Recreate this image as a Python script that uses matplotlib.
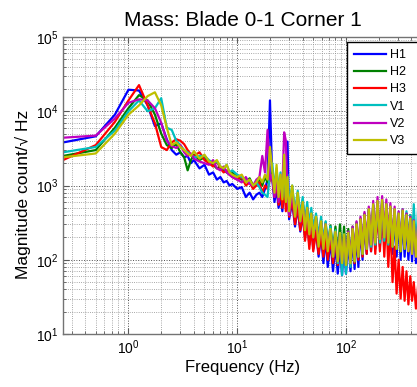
import numpy as np
import matplotlib
matplotlib.use("Agg")
import matplotlib.pyplot as plt
from matplotlib.ticker import LogLocator, NullFormatter

plt.rcParams['font.family'] = ['Liberation Sans', 'DejaVu Sans']
plt.rcParams['mathtext.default'] = 'regular'

# frequency grid (Hz)
freq_lo = [0.25, 0.5, 0.75, 1.0, 1.25, 1.5, 1.75, 2.0, 2.25, 2.5,
           2.75, 3.0, 3.25, 3.5, 3.75, 4.0, 4.5, 5.0, 5.5, 6.0,
           6.5, 7.0, 7.5, 8.0, 8.5, 9.0, 10, 11, 12, 13,
           14, 15, 16, 17, 18, 19, 20]
freq_hi = [21, 22, 23, 24, 25, 26, 27, 28, 29, 30,
           32, 34, 36, 38, 40, 42, 44, 46, 48, 50,
           53, 56, 59, 62, 65, 68,
           72, 76, 80, 84, 88, 92, 96, 100,
           105, 110, 115, 120, 125, 130,
           136, 142, 148, 155, 162, 170, 178, 186, 195,
           205, 215, 225, 235, 245, 256, 268, 280, 292,
           305, 318, 332, 346, 360, 375, 390, 405, 420, 440, 460]
freq = freq_lo + freq_hi

labels = ['H1', 'H2', 'H3', 'V1', 'V2', 'V3']

h1 = [3800, 4600, 9000, 19500, 19000, 12000, 6300, 6900, 4200, 3000,
      2600, 2800, 2400, 2500, 2000, 2200, 1700, 1900, 1400, 1500,
      1200, 1300, 1100, 1150, 1000, 1050, 900, 950, 700, 800,
      650, 750, 800, 700, 900, 1200, 14000,
      1200, 600, 900, 500, 700, 450, 800, 600, 3900, 350,
      600, 280, 500, 240, 400, 200, 330, 160, 300, 140,
      250, 110, 220, 90, 200, 80,
      180, 70, 160, 65, 150, 62, 160, 65,
      170, 70, 200, 75, 230, 80,
      280, 100, 330, 120, 400, 130, 450, 140, 500,
      150, 520, 160, 470, 140, 430, 120, 400, 110,
      350, 100, 380, 110, 330, 100, 300, 95, 270, 90, 240]
h2 = [2500, 3000, 6000, 11000, 16500, 14000, 9000, 5000, 3500, 3200,
      3600, 2800, 2400, 1600, 2200, 2600, 2200, 2400, 2000, 1900,
      1700, 1800, 1600, 1500, 1400, 1500, 1300, 1200, 1100, 1250,
      1000, 1100, 1200, 1000, 1300, 1100, 1600,
      1500, 800, 1600, 700, 1300, 650, 1500, 600, 1100, 500,
      900, 400, 750, 350, 600, 280, 500, 240, 420, 220,
      380, 180, 340, 160, 320, 150,
      290, 130, 280, 120, 300, 110, 280, 105,
      260, 100, 280, 105, 320, 115,
      360, 130, 420, 150, 480, 160, 540, 170, 600,
      180, 600, 190, 540, 170, 500, 150, 470, 140,
      420, 130, 460, 140, 420, 140, 400, 130, 380, 120, 300]
h3 = [2200, 3500, 7200, 14000, 22500, 12000, 6900, 3300, 3000, 3800,
      4200, 4000, 3600, 3000, 2600, 2500, 2800, 2200, 2000, 1800,
      2100, 1700, 1500, 1600, 1400, 1300, 1200, 1300, 1000, 1100,
      900, 1000, 1100, 800, 1000, 900, 1200,
      1300, 700, 1100, 550, 900, 500, 1000, 450, 700, 380,
      650, 300, 520, 250, 420, 180, 330, 140, 280, 130,
      240, 120, 220, 110, 200, 100,
      190, 90, 180, 85, 170, 80, 170, 80,
      190, 85, 220, 90, 260, 100,
      300, 110, 350, 120, 400, 130, 450, 120, 500,
      130, 480, 110, 400, 80, 300, 50, 150, 35,
      100, 30, 80, 28, 70, 25, 60, 28, 50, 22, 45]
v1 = [2800, 3300, 5500, 10000, 14000, 10000, 11000, 15000, 6000, 5600,
      4000, 3500, 3000, 2800, 2600, 2400, 2500, 2500, 2200, 2000,
      2100, 1800, 1700, 1900, 1500, 1600, 1400, 1300, 1200, 1100,
      1000, 1100, 950, 800, 750, 700, 1500,
      2000, 900, 1700, 800, 1500, 700, 1800, 650, 1400, 550,
      1000, 450, 850, 400, 700, 330, 600, 290, 500, 260,
      420, 200, 380, 170, 330, 150,
      280, 110, 250, 90, 230, 62, 220, 65,
      230, 80, 260, 95, 290, 110,
      340, 120, 400, 140, 460, 150, 540, 160, 600,
      170, 620, 180, 560, 160, 520, 150, 480, 150,
      440, 140, 480, 150, 450, 140, 400, 130, 560, 130, 500]
v2 = [4400, 4700, 8000, 13000, 14500, 14000, 11000, 7000, 4000, 3400,
      3200, 3500, 2800, 2500, 2700, 2300, 2100, 2000, 1900, 2200,
      1700, 1600, 1800, 1500, 1400, 1300, 1200, 1100, 1300, 1050,
      1000, 1200, 1300, 2500, 1500, 5600, 1200,
      1400, 700, 1300, 600, 1200, 900, 5200, 4000, 700, 400,
      800, 380, 700, 320, 580, 260, 480, 220, 400, 200,
      360, 160, 320, 150, 300, 140,
      250, 110, 230, 100, 220, 95, 210, 90,
      240, 95, 280, 110, 330, 120,
      380, 140, 440, 160, 520, 180, 620, 190, 700,
      210, 720, 220, 650, 190, 580, 160, 520, 150,
      450, 140, 480, 150, 420, 130, 380, 120, 340, 110, 290]
v3 = [2400, 2700, 5000, 9000, 12000, 16000, 18000, 12000, 6000, 3500,
      3800, 3300, 3000, 2700, 2500, 2900, 2300, 2600, 2100, 2000,
      2200, 1800, 1700, 1900, 1500, 1400, 1300, 1400, 1100, 1200,
      1000, 1100, 1300, 1100, 1400, 1200, 3300,
      1600, 800, 1900, 700, 1400, 650, 2600, 600, 1300, 450,
      1000, 380, 800, 330, 600, 250, 500, 220, 420, 200,
      380, 150, 330, 140, 300, 130,
      260, 110, 240, 95, 230, 90, 220, 85,
      230, 90, 260, 95, 300, 110,
      350, 120, 400, 140, 480, 160, 560, 170, 620,
      190, 640, 200, 560, 170, 520, 150, 480, 140,
      420, 130, 460, 140, 400, 130, 360, 120, 330, 110, 280]

series = [h1, h2, h3, v1, v2, v3]
colors = [(0, 0, 1), (0, 0.5, 0), (1, 0, 0), (0, 0.75, 0.75), (0.75, 0, 0.75), (0.75, 0.75, 0)]

fig = plt.figure(figsize=(4.17, 3.87), dpi=100)
W, H = 417.0, 387.0
ax = fig.add_axes([63 / W, 1 - 334 / H, (422 - 63) / W, (334 - 37) / H])

for vals, c, lab in zip(series, colors, labels):
    ax.plot(freq, vals, color=c, lw=1.6, label=lab)

ax.set_xscale('log')
ax.set_yscale('log')
ax.set_xlim(0.25, 500)
ax.set_ylim(10, 1e5)
ax.xaxis.set_major_locator(LogLocator(base=10, numticks=10))
ax.xaxis.set_minor_locator(LogLocator(base=10, subs=np.arange(2, 10), numticks=20))
ax.yaxis.set_minor_locator(LogLocator(base=10, subs=np.arange(2, 10), numticks=20))
ax.xaxis.set_minor_formatter(NullFormatter())
ax.yaxis.set_minor_formatter(NullFormatter())

ax.grid(True, which='major', linestyle=':', color='0.3', lw=0.7)
ax.grid(True, which='minor', linestyle=':', color='0.55', lw=0.6)
ax.tick_params(which='both', direction='in', top=True, right=True, labelsize=10, colors='0.35', labelcolor='black')
ax.tick_params(which='major', length=4)
ax.tick_params(which='minor', length=2)
for sp in ax.spines.values():
    sp.set_color('0.45')
    sp.set_linewidth(1.0)

ax.set_title('Mass: Blade 0-1 Corner 1', fontsize=15, pad=8)
ax.set_xlabel('Frequency (Hz)', fontsize=12, labelpad=2)
ax.set_ylabel('Magnitude count/\u221a Hz', fontsize=12.5)
ax.yaxis.set_label_coords(-0.09, 0.47)

leg = ax.legend(loc='upper left', bbox_to_anchor=(347 / W, 1 - 42 / H, 80 / W, 0),
                bbox_transform=fig.transFigure, mode='expand', fontsize=9, fancybox=False,
                framealpha=1, edgecolor='black', borderaxespad=0,
                handlelength=2.6, handletextpad=0.3, labelspacing=0.42, borderpad=0.55)
leg.get_frame().set_linewidth(1.0)

fig.savefig('out.png', dpi=100)
